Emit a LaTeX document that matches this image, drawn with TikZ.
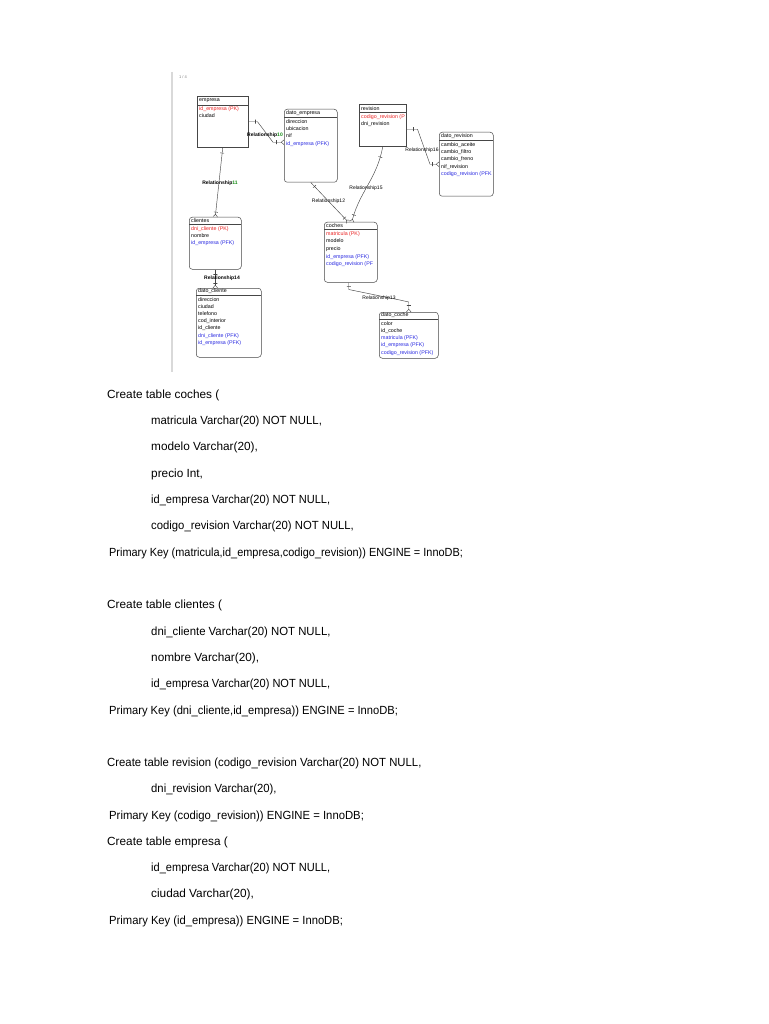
\documentclass[tikz,border=0pt]{standalone}
\usepackage{fontspec}
\setmainfont{Liberation Sans}
\usetikzlibrary{arrows.meta}
\definecolor{pkred}{RGB}{235,35,35}
\definecolor{pfkblue}{RGB}{40,40,225}
\definecolor{relgreen}{RGB}{20,140,20}
\definecolor{edge}{RGB}{70,70,70}
\newcommand{\pk}[1]{\textcolor{pkred}{#1}}
\newcommand{\pfk}[1]{\textcolor{pfkblue}{#1}}
\newcommand{\relno}[1]{\textcolor{relgreen}{#1}}
\newcommand{\narrow}[2]{\scalebox{#1}[1]{#2}}

\begin{document}
\begin{tikzpicture}[x=1pt,y=-1pt,
  tbl/.style={draw=edge, line width=.5pt, anchor=north west, inner sep=0},
  hdr/.style={anchor=west, inner sep=0, font=\fontsize{5.3}{6}\selectfont},
  fld/.style={anchor=north west, inner sep=0, align=left, font=\fontsize{5.3}{7.4}\selectfont},
  rel/.style={draw=edge, line width=.45pt},
  crow/.style={-{Straight Barb[reversed,length=2.5pt,width=4.5pt]}},
  tickmk/.style={sloped, draw=edge, shape=rectangle, inner sep=0, minimum width=0pt, minimum height=4pt, line width=.45pt},
  rlabel/.style={inner sep=0, font=\fontsize{5}{6}\selectfont},
  sql/.style={anchor=base west, inner sep=0, font=\fontsize{11.8}{14}\selectfont}]
\useasboundingbox[fill=white] (0,0) rectangle (768,1024);

% screenshot edge
\draw[gray!30, line width=2pt] (172,72) -- (172,372);
\node[inner sep=0, font=\fontsize{4}{5}\selectfont, text=gray] (pageno) at (183,77) {1 / 4};

% empresa
\node[tbl, minimum width=51, minimum height=51] (empresa) at (197,96) {};
\draw[edge, line width=.5pt] (197,105) -- (248,105);
\node[hdr] (empresaT) at (199,101) {empresa};
\node[fld] (empresaF) at (199,106.5) {\pk{id\_empresa (PK)}\\ciudad};

% dato_empresa
\node[tbl, rounded corners=3, minimum width=53, minimum height=73] (dato_empresa) at (284,109) {};
\draw[edge, line width=.5pt] (284,117) -- (337,117);
\node[hdr] (dato_empresaT) at (286,113.5) {dato\_empresa};
\node[fld] (dato_empresaF) at (286,119) {direccion\\ubicacion\\nif\\\pfk{id\_empresa (PFK)}};

% revision
\node[tbl, minimum width=47, minimum height=42] (revision) at (359,104) {};
\draw[edge, line width=.5pt] (359,112) -- (406,112);
\node[hdr] (revisionT) at (361,108.5) {revision};
\node[fld] (revisionF) at (361,114) {\pk{codigo\_revision (P}\\dni\_revision};

% dato_revision
\node[tbl, rounded corners=3, minimum width=54, minimum height=64] (dato_revision) at (439,132) {};
\draw[edge, line width=.5pt] (439,140) -- (493,140);
\node[hdr] (dato_revisionT) at (441,136.5) {dato\_revision};
\node[fld] (dato_revisionF) at (441,142) {cambio\_aceite\\cambio\_filtro\\cambio\_freno\\nif\_revision\\\pfk{codigo\_revision (PFK}};

% clientes
\node[tbl, rounded corners=3, minimum width=52, minimum height=52] (clientes) at (189,217) {};
\draw[edge, line width=.5pt] (189,224) -- (241,224);
\node[hdr] (clientesT) at (191,220.5) {clientes};
\node[fld] (clientesF) at (191,226) {\pk{dni\_cliente (PK)}\\nombre\\\pfk{id\_empresa (PFK)}};

% dato_cliente
\node[tbl, rounded corners=3, minimum width=65, minimum height=69] (dato_cliente) at (196,288) {};
\draw[edge, line width=.5pt] (196,295) -- (261,295);
\node[hdr] (dato_clienteT) at (198,291.5) {dato\_cliente};
\node[fld, font=\fontsize{5.3}{7.2}\selectfont] (dato_clienteF) at (198,297) {direccion\\ciudad\\telefono\\cod\_interior\\id\_cliente\\\pfk{dni\_cliente (PFK)}\\\pfk{id\_empresa (PFK)}};

% coches
\node[tbl, rounded corners=3, minimum width=53, minimum height=60] (coches) at (324,222) {};
\draw[edge, line width=.5pt] (324,229) -- (377,229);
\node[hdr] (cochesT) at (326,225.5) {coches};
\node[fld, font=\fontsize{5.3}{7.7}\selectfont] (cochesF) at (326,231) {\pk{matricula (PK)}\\modelo\\precio\\\pfk{id\_empresa (PFK)}\\\pfk{codigo\_revision (PF}};

% dato_coche
\node[tbl, rounded corners=3, minimum width=59, minimum height=46] (dato_coche) at (379,312) {};
\draw[edge, line width=.5pt] (379,319) -- (438,319);
\node[hdr] (dato_cocheT) at (381,315.5) {dato\_coche};
\node[fld, font=\fontsize{5.3}{7.25}\selectfont] (dato_cocheF) at (381,321) {color\\id\_coche\\\pfk{matricula (PFK)}\\\pfk{id\_empresa (PFK)}\\\pfk{codigo\_revision (PFK)}};

% relationships
\draw[rel, crow] (empresa.east) -- node[tickmk, pos=.8]{} ++(9,0)
  -- ([xshift=-11,yshift=3.5]dato_empresa.west) -- node[tickmk, pos=.3]{} ([yshift=3.5]dato_empresa.west);
\node[rlabel, font=\fontsize{5}{6}\bfseries] (rel10) at (265,135.5) {Relationship\relno{10}};

\draw[rel, crow] (empresa.south) -- node[tickmk, pos=.08]{} node[tickmk, pos=.93]{} (clientes.north);
\node[rlabel, font=\fontsize{5}{6}\bfseries] (rel11) at (220,183) {Relationship\relno{11}};

\draw[rel, crow] (clientes.south) -- node[tickmk, pos=.25]{} node[tickmk, pos=.75]{} (clientes.south |- dato_cliente.north);
\node[rlabel, font=\fontsize{5}{6}\bfseries] (rel14) at (222,278) {Relationship14};

\draw[rel, crow] (dato_empresa.south) -- node[tickmk, pos=.1]{} node[tickmk, pos=.9]{} ([xshift=-2.5]coches.north);
\node[rlabel] (rel12) at (328.5,201.5) {Relationship12};

\draw[rel, crow] (revision.south) to[out=-100, in=75] node[tickmk, pos=.12]{} node[tickmk, pos=.92]{} ([xshift=1]coches.north);
\node[rlabel] (rel15) at (366,188) {Relationship15};

\draw[rel, crow] ([yshift=-4]revision.east) -- node[tickmk, pos=.6]{} ++(11,0)
  -- ([xshift=-9]dato_revision.west) -- node[tickmk, pos=.3]{} (dato_revision.west);
\node[rlabel] (rel16) at (422,150) {Relationship16};

\draw[rel, crow] ([xshift=-2]coches.south) -- node[tickmk, pos=.5]{} ++(0,7)
  -- ([xshift=-9,yshift=12]dato_coche.north) -- ([yshift=10]dato_coche.north) -- node[tickmk, pos=.35]{} (dato_coche.north);
\node[rlabel] (rel13) at (379,298) {Relationship13};

% SQL text
\node[sql] (sql1) at (107,398.5) {Create table coches (};
\node[sql] (sql2) at (151,424.5) {\narrow{.962}{matricula Varchar(20) NOT NULL,}};
\node[sql] (sql3) at (151,450.5) {modelo Varchar(20),};
\node[sql] (sql4) at (151,477.5) {precio Int,};
\node[sql] (sql5) at (151,503.5) {\narrow{.936}{id\_empresa Varchar(20) NOT NULL,}};
\node[sql] (sql6) at (151,529.5) {\narrow{.958}{codigo\_revision Varchar(20) NOT NULL,}};
\node[sql] (sql7) at (109,556.5) {\narrow{.926}{Primary Key (matricula,id\_empresa,codigo\_revision)) ENGINE = InnoDB;}};

\node[sql] (sql8) at (107,608.5) {Create table clientes (};
\node[sql] (sql9) at (151,635.5) {\narrow{.964}{dni\_cliente Varchar(20) NOT NULL,}};
\node[sql] (sql10) at (151,661.5) {nombre Varchar(20),};
\node[sql] (sql11) at (151,687.5) {\narrow{.936}{id\_empresa Varchar(20) NOT NULL,}};
\node[sql] (sql12) at (109,714.5) {\narrow{.946}{Primary Key (dni\_cliente,id\_empresa)) ENGINE = InnoDB;}};

\node[sql] (sql13) at (107,766.5) {\narrow{.961}{Create table revision (codigo\_revision Varchar(20) NOT NULL,}};
\node[sql] (sql14) at (151,792.5) {\narrow{.957}{dni\_revision Varchar(20),}};
\node[sql] (sql15) at (109,819.5) {\narrow{.958}{Primary Key (codigo\_revision)) ENGINE = InnoDB;}};
\node[sql] (sql16) at (107,845.5) {Create table empresa (};
\node[sql] (sql17) at (151,871.5) {\narrow{.936}{id\_empresa Varchar(20) NOT NULL,}};
\node[sql] (sql18) at (151,897.5) {ciudad Varchar(20),};
\node[sql] (sql19) at (109,924.5) {\narrow{.952}{Primary Key (id\_empresa)) ENGINE = InnoDB;}};
\end{tikzpicture}
\end{document}
